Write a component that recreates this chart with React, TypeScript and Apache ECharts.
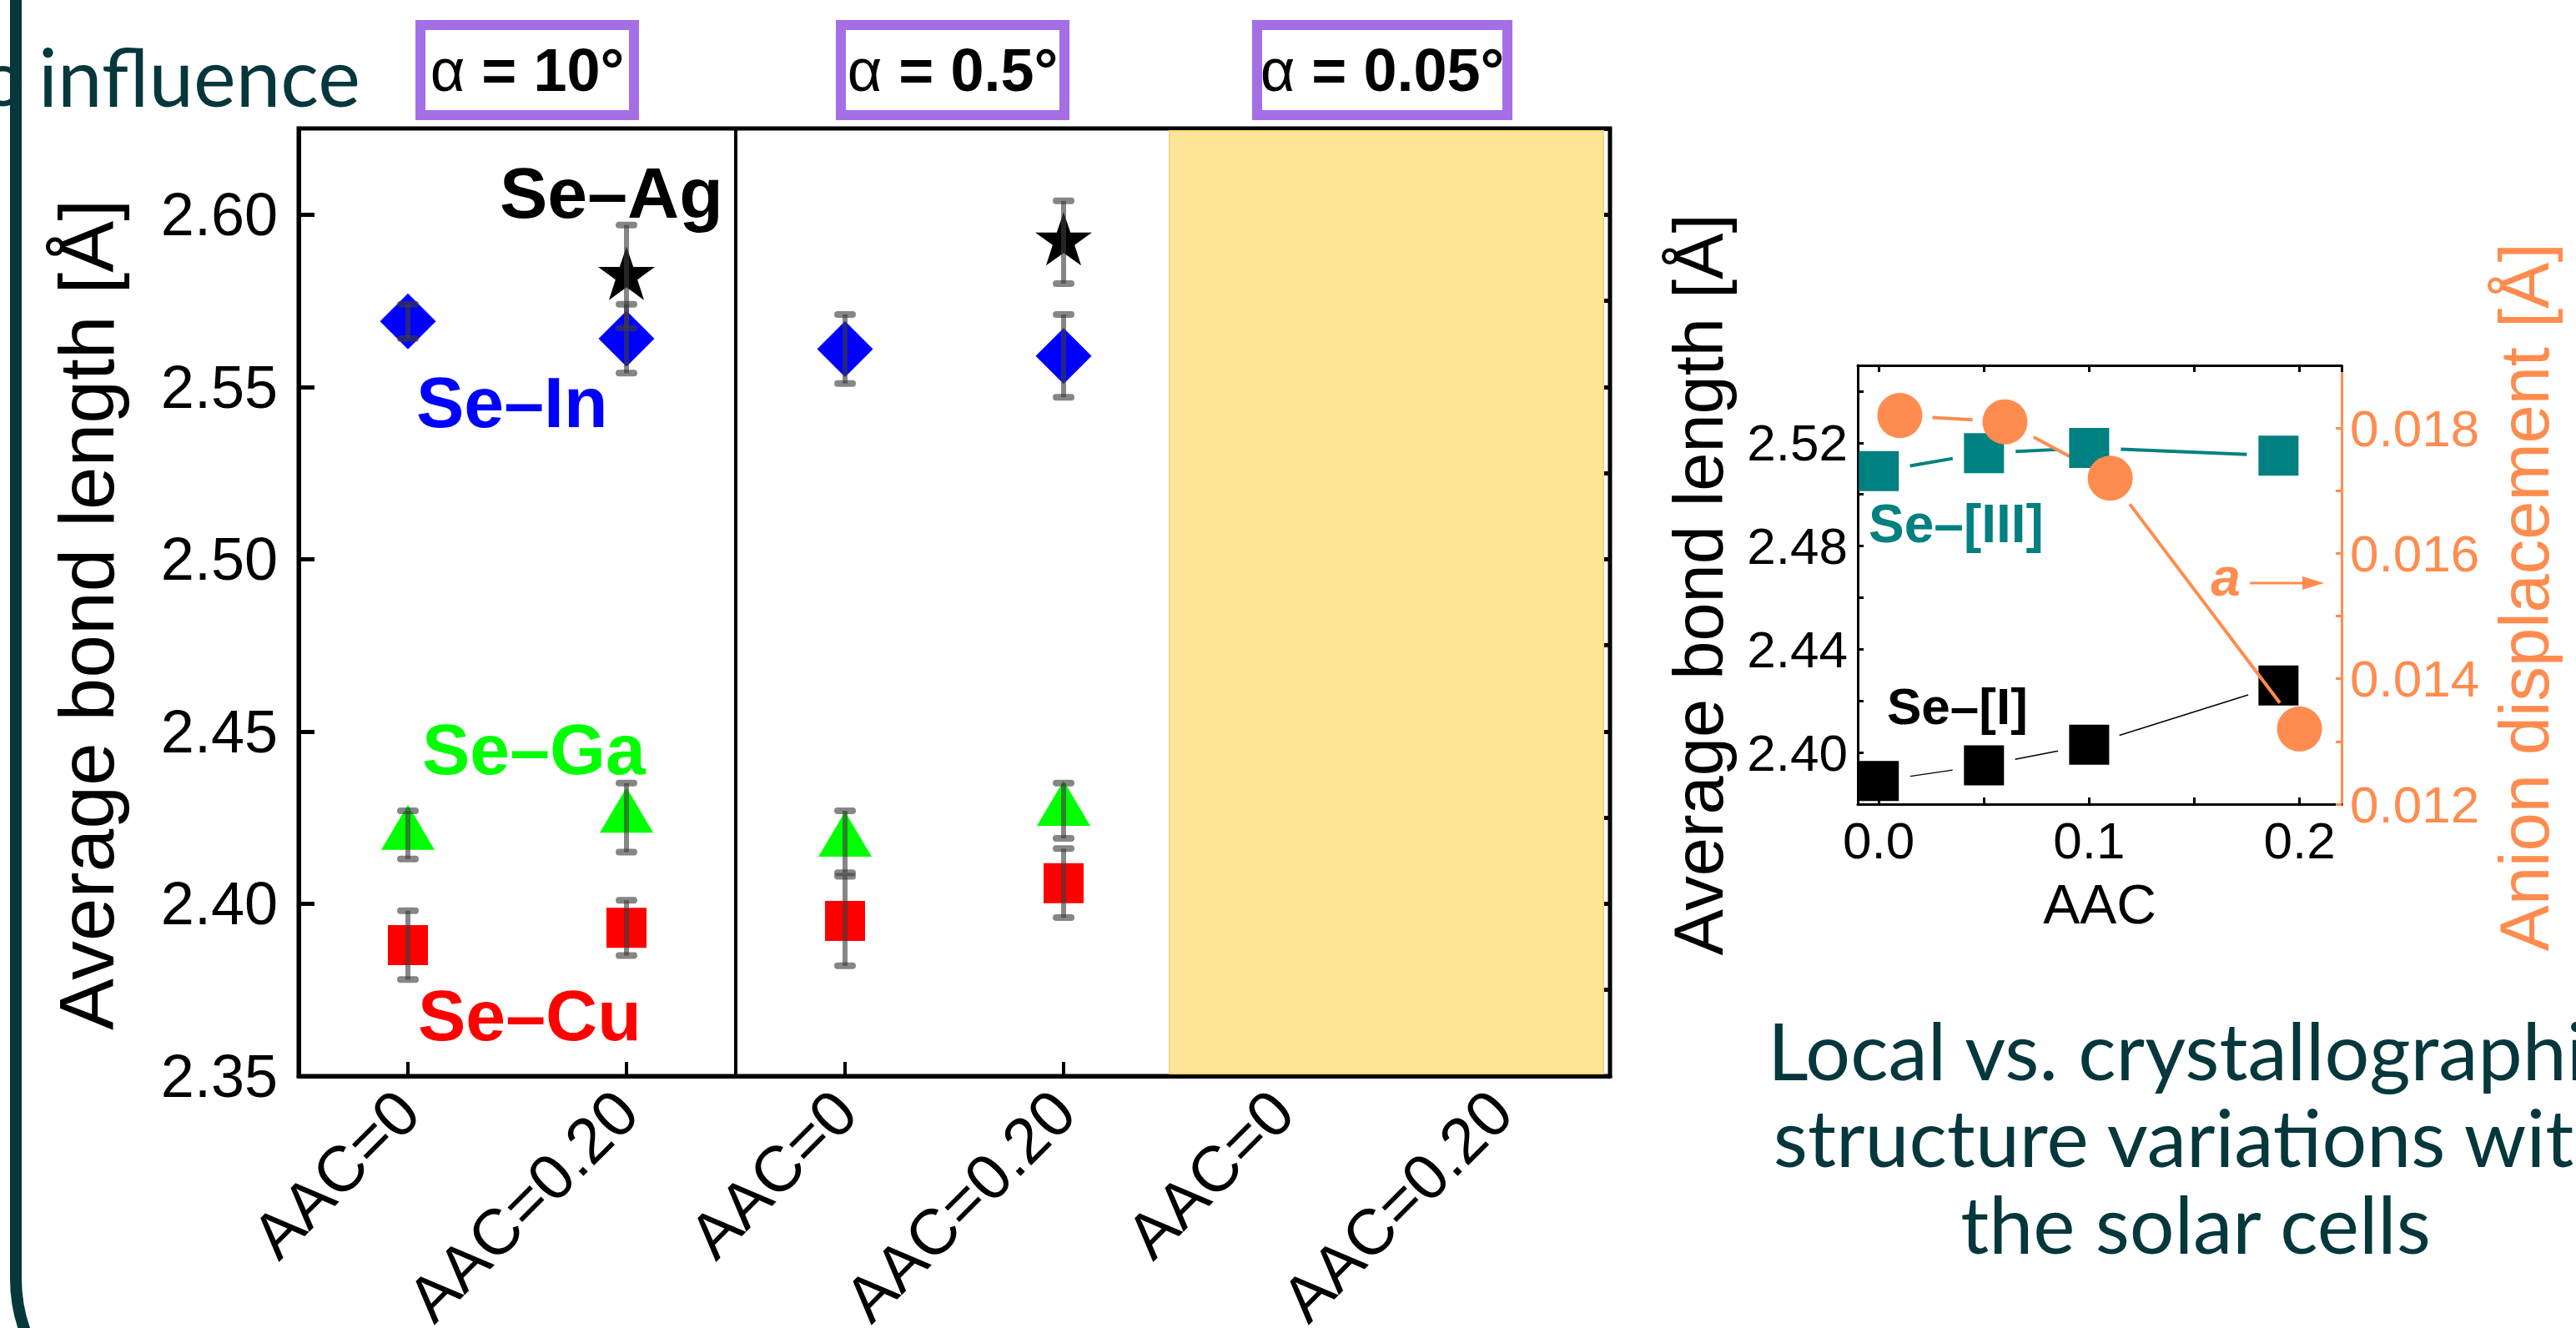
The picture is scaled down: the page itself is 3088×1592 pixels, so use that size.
import React, { useEffect, useRef } from 'react';
import * as echarts from 'echarts';

// ---------- data ----------
const categories = ['AAC=0', 'AAC=0.20', 'AAC=0', 'AAC=0.20', 'AAC=0', 'AAC=0.20'];
const seInValues = [2.569, 2.564, 2.561, 2.559, null, null];
const seInErrors = [0.005, 0.010, 0.010, 0.012, null, null];
const seAgValues = [null, 2.582, null, 2.592, null, null];
const seAgErrors = [null, 0.015, null, 0.012, null, null];
const seGaValues = [2.420, 2.425, 2.418, 2.427, null, null];
const seGaErrors = [0.007, 0.010, 0.009, 0.008, null, null];
const seCuValues = [2.388, 2.393, 2.395, 2.406, null, null];
const seCuErrors = [0.010, 0.008, 0.013, 0.010, null, null];
const dividerBoundary = [2];
const shadedPanelStart = [4];
const panelAngles = ['10°', '0.5°', '0.05°'];

const insetSquareAAC = [0, 0.05, 0.10, 0.19];
const insetCircleAAC = [0.01, 0.06, 0.11, 0.20];
const seIIIValues = [2.509, 2.516, 2.518, 2.515];
const seIValues = [2.389, 2.395, 2.403, 2.426];
const anionValues = [0.0182, 0.0181, 0.0172, 0.0132];

// ---------- styles ----------
const AR = "'Liberation Sans', Arial, sans-serif";
const SLIDE = "Lato, 'Open Sans', sans-serif";
const SLIDE_COLOR = '#05373c';
const ORANGE = '#ff8c4f';
const TEAL = '#008080';
const PURPLE = '#a46ee6';
const ERR = 'rgba(60,60,60,0.62)';
const STAR = 'path://M50,0 L61.8,35.1 L98.9,35.1 L68.9,56.9 L80.3,92.1 L50,70.4 L19.7,92.1 L31.1,56.9 L1.1,35.1 L38.2,35.1 Z';

const pts = (vals: (number | null)[]) =>
  vals.map((v, i) => (v == null ? null : [i, v])).filter((d) => d) as number[][];
const errPts = (vals: (number | null)[], errs: (number | null)[]) =>
  vals.map((v, i) => (v == null ? null : [i, v, errs[i] as number])).filter((d) => d) as number[][];

function errorSeries(vals: (number | null)[], errs: (number | null)[]) {
  return {
    type: 'custom',
    xAxisIndex: 0,
    yAxisIndex: 0,
    z: 6,
    silent: true,
    data: errPts(vals, errs),
    encode: { x: 0, y: 1 },
    renderItem: (params: any, api: any) => {
      const x = api.value(0);
      const y = api.value(1);
      const e = api.value(2);
      const t = api.coord([x, y + e]);
      const b = api.coord([x, y - e]);
      const c = 9;
      return {
        type: 'group',
        children: [
          { type: 'line', shape: { x1: t[0], y1: t[1], x2: b[0], y2: b[1] }, style: { stroke: ERR, lineWidth: 6 } },
          { type: 'line', shape: { x1: t[0] - c, y1: t[1], x2: t[0] + c, y2: t[1] }, style: { stroke: ERR, lineWidth: 8, lineCap: 'round' } },
          { type: 'line', shape: { x1: b[0] - c, y1: b[1], x2: b[0] + c, y2: b[1] }, style: { stroke: ERR, lineWidth: 8, lineCap: 'round' } },
        ],
      };
    },
  };
}

function gapLine(xs: number[], ys: number[], gap: number, color: string, width: number, xi: number, yi: number, z: number) {
  const segs: number[][] = [];
  for (let i = 0; i < xs.length - 1; i++) segs.push([xs[i], ys[i], xs[i + 1], ys[i + 1]]);
  return {
    type: 'custom',
    xAxisIndex: xi,
    yAxisIndex: yi,
    z,
    silent: true,
    data: segs,
    encode: { x: [0, 2], y: [1, 3] },
    renderItem: (params: any, api: any) => {
      const a = api.coord([api.value(0), api.value(1)]);
      const b = api.coord([api.value(2), api.value(3)]);
      const dx = b[0] - a[0];
      const dy = b[1] - a[1];
      const L = Math.hypot(dx, dy);
      if (L <= 2 * gap) return null;
      const ux = dx / L;
      const uy = dy / L;
      return {
        type: 'line',
        shape: { x1: a[0] + ux * gap, y1: a[1] + uy * gap, x2: b[0] - ux * gap, y2: b[1] - uy * gap },
        style: { stroke: color, lineWidth: width },
      };
    },
  };
}

function txt(text: string, x: number, y: number, size: number, opts: any = {}) {
  return {
    type: 'text',
    x,
    y,
    rotation: opts.rotation || 0,
    z: 50,
    silent: true,
    style: {
      text,
      fontSize: size,
      fontFamily: opts.family || AR,
      fontWeight: opts.weight || 'normal',
      fontStyle: opts.style || 'normal',
      fill: opts.color || '#000',
      align: opts.align || 'left',
      textAlign: opts.align || 'left',
      verticalAlign: 'middle',
      textVerticalAlign: 'middle',
    },
  };
}

function alphaBox(cx: number, w: number, val: string) {
  return [
    {
      type: 'rect',
      z: 40,
      silent: true,
      shape: { x: cx - w / 2 + 6, y: 30, width: w - 12, height: 108 },
      style: { fill: '#fff', stroke: PURPLE, lineWidth: 12 },
    },
    {
      type: 'text',
      x: cx,
      y: 84,
      z: 41,
      silent: true,
      style: {
        text: '{a|α}{b| = ' + val + '}',
        align: 'center',
        textAlign: 'center',
        verticalAlign: 'middle',
        textVerticalAlign: 'middle',
        rich: {
          a: { fontSize: 72, fontFamily: AR, fontWeight: 'normal', fill: '#000', color: '#000' },
          b: { fontSize: 72, fontFamily: AR, fontWeight: 'bold', fill: '#000', color: '#000' },
        },
      },
    },
  ];
}

const labelFmt = (step: number, digits: number) => (v: number) =>
  Math.abs(v / step - Math.round(v / step)) < 1e-6 ? v.toFixed(digits) : '';

const option: any = {
  animation: false,
  backgroundColor: '#fff',
  grid: [
    { left: 358, top: 154, width: 1572, height: 1136, show: true, borderColor: '#000', borderWidth: 5, backgroundColor: 'transparent', containLabel: false, outerBoundsMode: 'none' },
    { left: 2227, top: 438, width: 580, height: 526, show: false, containLabel: false, outerBoundsMode: 'none' },
  ],
  xAxis: [
    {
      type: 'category',
      gridIndex: 0,
      data: categories,
      boundaryGap: true,
      axisLine: { show: true, lineStyle: { color: '#000', width: 5 } },
      axisTick: { show: true, inside: true, alignWithLabel: true, interval: 0, length: 17, lineStyle: { color: '#000', width: 4 } },
      axisLabel: { interval: 0, rotate: 45, margin: 30, fontSize: 77, fontFamily: AR, color: '#000' },
      splitLine: { show: false },
    },
    {
      type: 'value',
      gridIndex: 1,
      min: -0.01,
      max: 0.22,
      splitNumber: 5,
      position: 'bottom',
      axisLine: { show: true, onZero: false, lineStyle: { color: '#000', width: 3 } },
      axisTick: { show: true, inside: true, length: 8, lineStyle: { color: '#000', width: 3 } },
      axisLabel: { margin: 12, fontSize: 62, fontFamily: AR, color: '#000', showMinLabel: false, showMaxLabel: false, formatter: labelFmt(0.1, 1) },
      splitLine: { show: false },
    },
    {
      type: 'value',
      gridIndex: 1,
      min: -0.01,
      max: 0.22,
      splitNumber: 5,
      position: 'top',
      axisLine: { show: true, onZero: false, lineStyle: { color: '#000', width: 3 } },
      axisTick: { show: true, inside: true, length: 8, lineStyle: { color: '#000', width: 3 } },
      axisLabel: { show: false },
      splitLine: { show: false },
    },
  ],
  yAxis: [
    {
      type: 'value',
      gridIndex: 0,
      min: 2.35,
      max: 2.625,
      interval: 0.05,
      axisLine: { show: true, onZero: false, lineStyle: { color: '#000', width: 5 } },
      axisTick: { show: true, inside: true, length: 19, lineStyle: { color: '#000', width: 5 } },
      axisLabel: { margin: 25, fontSize: 72, fontFamily: AR, color: '#000', showMaxLabel: false, formatter: labelFmt(0.05, 2) },
      splitLine: { show: false },
    },
    {
      type: 'value',
      gridIndex: 0,
      min: 2.35,
      max: 2.625,
      interval: 0.025,
      axisLine: { show: false },
      axisTick: { show: true, inside: true, length: 9, lineStyle: { color: '#000', width: 5 } },
      axisLabel: { show: false },
      splitLine: { show: false },
    },
    {
      type: 'value',
      gridIndex: 1,
      min: 2.38,
      max: 2.55,
      interval: 0.02,
      position: 'left',
      axisLine: { show: true, onZero: false, lineStyle: { color: '#000', width: 3 } },
      axisTick: { show: true, inside: true, length: 7, lineStyle: { color: '#000', width: 3 } },
      axisLabel: { margin: 12, fontSize: 62, fontFamily: AR, color: '#000', showMaxLabel: false, formatter: labelFmt(0.04, 2) },
      splitLine: { show: false },
    },
    {
      type: 'value',
      gridIndex: 1,
      min: 0.012,
      max: 0.019,
      interval: 0.001,
      position: 'right',
      axisLine: { show: true, onZero: false, lineStyle: { color: ORANGE, width: 3 } },
      axisTick: { show: true, inside: true, length: 7, lineStyle: { color: ORANGE, width: 3 } },
      axisLabel: { margin: 10, fontSize: 62, fontFamily: AR, color: ORANGE, showMaxLabel: false, formatter: labelFmt(0.002, 3) },
      splitLine: { show: false },
    },
  ],
  series: [
    // shaded third panel
    {
      type: 'custom',
      xAxisIndex: 0,
      yAxisIndex: 0,
      z: 1,
      silent: true,
      data: shadedPanelStart.map((i) => [i]),
      encode: { x: 0 },
      renderItem: (params: any, api: any) => {
        const cs = params.coordSys;
        const bw = api.size([1, 0])[0];
        const c = api.coord([api.value(0), 2.5])[0];
        const x0 = c - bw / 2 - 4;
        const x1 = c + bw * 1.5 - 8;
        return {
          type: 'rect',
          shape: { x: x0, y: cs.y + 3, width: x1 - x0, height: cs.height - 6 },
          style: { fill: '#fee498', stroke: '#f6d67c', lineWidth: 2 },
        };
      },
    },
    // panel divider
    {
      type: 'custom',
      xAxisIndex: 0,
      yAxisIndex: 0,
      z: 2,
      silent: true,
      data: dividerBoundary.map((i) => [i]),
      encode: { x: 0 },
      renderItem: (params: any, api: any) => {
        const cs = params.coordSys;
        const bw = api.size([1, 0])[0];
        const x = api.coord([api.value(0), 2.5])[0] - bw / 2;
        return { type: 'line', shape: { x1: x, y1: cs.y, x2: x, y2: cs.y + cs.height }, style: { stroke: '#000', lineWidth: 4 } };
      },
    },
    { name: 'Se–In', type: 'scatter', xAxisIndex: 0, yAxisIndex: 0, z: 4, symbol: 'diamond', symbolSize: 67, itemStyle: { color: '#0000ff', opacity: 1 }, data: pts(seInValues) },
    { name: 'Se–Ag', type: 'scatter', xAxisIndex: 0, yAxisIndex: 0, z: 4, symbol: STAR, symbolSize: [68, 64], symbolOffset: [0, -4], itemStyle: { color: '#000', opacity: 1 }, data: pts(seAgValues) },
    { name: 'Se–Ga', type: 'scatter', xAxisIndex: 0, yAxisIndex: 0, z: 4, symbol: 'triangle', symbolSize: [64, 54], symbolOffset: [0, -9], itemStyle: { color: '#00ff00', opacity: 1 }, data: pts(seGaValues) },
    { name: 'Se–Cu', type: 'scatter', xAxisIndex: 0, yAxisIndex: 0, z: 4, symbol: 'rect', symbolSize: 48, itemStyle: { color: '#ff0000', opacity: 1 }, data: pts(seCuValues) },
    errorSeries(seInValues, seInErrors),
    errorSeries(seAgValues, seAgErrors),
    errorSeries(seGaValues, seGaErrors),
    errorSeries(seCuValues, seCuErrors),
    // inset
    gapLine(insetSquareAAC, seIValues, 38, '#000', 1.5, 1, 2, 3),
    {
      name: 'Se–[I]', type: 'scatter', xAxisIndex: 1, yAxisIndex: 2, z: 4, symbol: 'rect', symbolSize: 48, itemStyle: { color: '#000', opacity: 1 },
      data: insetSquareAAC.map((x, i) => [x, seIValues[i]]),
    },
    gapLine(insetSquareAAC, seIIIValues, 38, TEAL, 4, 1, 2, 5),
    gapLine(insetCircleAAC, anionValues, 39, ORANGE, 4, 1, 3, 6),
    {
      name: 'Se–[III]', type: 'scatter', xAxisIndex: 1, yAxisIndex: 2, z: 7, symbol: 'rect', symbolSize: 48, itemStyle: { color: TEAL, opacity: 1 },
      data: insetSquareAAC.map((x, i) => [x, seIIIValues[i]]),
    },
    {
      name: 'a', type: 'scatter', xAxisIndex: 1, yAxisIndex: 3, z: 8, symbol: 'circle', symbolSize: 54, itemStyle: { color: ORANGE, opacity: 1 },
      data: insetCircleAAC.map((x, i) => [x, anionValues[i]]),
    },
  ],
  graphic: {
    elements: [
      {
        type: 'rect',
        z: 0,
        silent: true,
        shape: { x: 19, y: -400, width: 4000, height: 2118, r: 185 },
        style: { fill: 'none', stroke: SLIDE_COLOR, lineWidth: 14 },
      },
      txt('o', 30, 90, 94, { family: SLIDE, color: SLIDE_COLOR, align: 'right' }),
      txt('influence', 46, 90, 96, { family: SLIDE, color: SLIDE_COLOR }),
      ...alphaBox(632, 268, panelAngles[0]),
      ...alphaBox(1142, 280, panelAngles[1]),
      ...alphaBox(1657, 312, panelAngles[2]),
      txt('Average bond length [Å]', 104, 737, 93, { rotation: Math.PI / 2, align: 'center' }),
      txt('Se–Ag', 599, 231, 86, { weight: 'bold' }),
      txt('Se–In', 499, 482, 86, { weight: 'bold', color: '#0000ff' }),
      txt('Se–Ga', 506, 898, 86, { weight: 'bold', color: '#00ff00' }),
      txt('Se–Cu', 501, 1217, 86, { weight: 'bold', color: '#ff0000' }),
      txt('Average bond length [Å]', 2036, 701, 83, { rotation: Math.PI / 2, align: 'center' }),
      txt('Anion displacement [Å]', 3026, 716, 83, { rotation: Math.PI / 2, align: 'center', color: ORANGE }),
      txt('AAC', 2517, 1084, 66, { align: 'center' }),
      txt('Se–[III]', 2240, 628, 64, { weight: 'bold', color: TEAL }),
      txt('Se–[I]', 2262, 846, 62, { weight: 'bold' }),
      txt('a', 2668, 692, 64, { weight: 'bold', style: 'italic', color: ORANGE, align: 'center' }),
      { type: 'line', z: 50, silent: true, shape: { x1: 2697, y1: 699, x2: 2762, y2: 699 }, style: { stroke: ORANGE, lineWidth: 3 } },
      { type: 'polygon', z: 50, silent: true, shape: { points: [[2760, 691], [2786, 699], [2760, 707]] }, style: { fill: ORANGE } },
      txt('Local vs. crystallographic', 2632, 1258, 95, { family: SLIDE, color: SLIDE_COLOR, align: 'center' }),
      txt('structure variations with', 2632, 1362, 95, { family: SLIDE, color: SLIDE_COLOR, align: 'center' }),
      txt('the solar cells', 2632, 1466, 95, { family: SLIDE, color: SLIDE_COLOR, align: 'center' }),
    ],
  },
};

export default function App() {
  const ref = useRef<HTMLDivElement>(null);
  useEffect(() => {
    const chart = echarts.init(ref.current as HTMLDivElement, null, { renderer: 'svg' });
    chart.setOption(option);
    return () => chart.dispose();
  }, []);
  return (
    <div
      ref={ref}
      style={{ position: 'fixed', left: 0, top: 0, width: 3088, height: 1592, background: '#fff' }}
    />
  );
}
